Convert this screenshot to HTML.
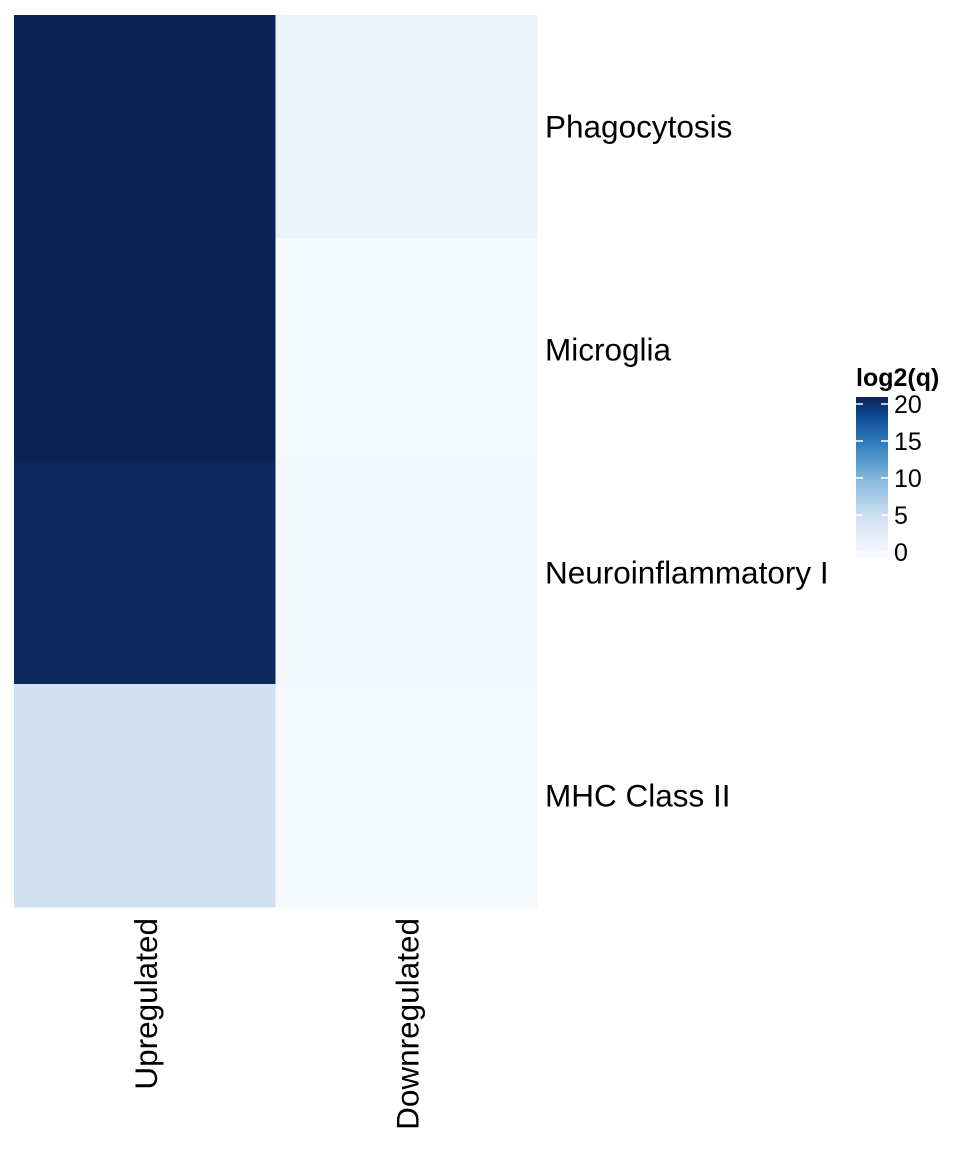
<!DOCTYPE html>
<html><head><meta charset="utf-8"><style>
body{margin:0;background:#fff;}
svg text{font-family:"Liberation Sans",Arial,sans-serif;}
</style></head><body>
<svg id="chart" width="960" height="1152" xmlns="http://www.w3.org/2000/svg">
<defs>
<linearGradient id="lg" x1="0" y1="1" x2="0" y2="0">
<stop offset="0" stop-color="#f7fbff"/><stop offset="0.25" stop-color="#d2e2f2"/>
<stop offset="0.5" stop-color="#7fb5d9"/><stop offset="0.72" stop-color="#2c7bbb"/>
<stop offset="0.88" stop-color="#0d4a95"/><stop offset="1" stop-color="#0b2257"/>
</linearGradient>
</defs>
<g id="cells"></g>
<g id="rowlabels"></g>
<g id="collabels"></g>
<g id="legend">
<text x="856" y="386" font-size="25" font-weight="bold">log2(q)</text>
<rect x="856" y="397" width="32" height="161" fill="url(#lg)"/>
<g id="legticks"></g>
</g>
</svg>
<script>
const rows = ["Phagocytosis","Microglia","Neuroinflammatory I","MHC Class II"];
const cols = ["Upregulated","Downregulated"];
const upValues = [21, 21, 19.6, 3];
const downValues = [1.0, 0.2, 0.3, 0.2];
const legendTicks = [0,5,10,15,20];

const ns="http://www.w3.org/2000/svg";
const x0=14, cw=261.5, y0=15, rh=223;
const stops=[[0,[247,251,255]],[1,[234,242,250]],[3,[207,224,241]],[5,[198,219,239]],[10,[107,174,214]],[15,[33,113,181]],[19.6,[12,38,94]],[21,[11,34,87]]];
function color(v){
  for(let i=1;i<stops.length;i++){ if(v<=stops[i][0]){const [a,ca]=stops[i-1],[b,cb]=stops[i];const t=(v-a)/(b-a);
    return "rgb("+ca.map((c,k)=>Math.round(c+(cb[k]-c)*t)).join(",")+")";}}
  return "rgb(11,34,87)";
}
function xPos(c){return x0+c*cw;}
function yPos(r){return y0+r*rh;}
const series=[upValues,downValues];
const g=document.getElementById("cells");
series.forEach((vals,c)=>vals.forEach((v,r)=>{
  const el=document.createElementNS(ns,"rect");
  el.setAttribute("x",xPos(c));el.setAttribute("y",yPos(r));
  el.setAttribute("width",cw+0.5);el.setAttribute("height",rh+0.5);
  el.setAttribute("fill",color(v));
  
  
  g.appendChild(el);
}));
const rl=document.getElementById("rowlabels");
rows.forEach((n,r)=>{
  const t=document.createElementNS(ns,"text");
  t.setAttribute("x",545);t.setAttribute("y",yPos(r)+rh/2+11);
  t.setAttribute("font-size",31.5);t.textContent=n;
  
  
  rl.appendChild(t);
});
const cl=document.getElementById("collabels");
cols.forEach((n,c)=>{
  const t=document.createElementNS(ns,"text");
  const x=xPos(c)+cw/2+12, y=918;
  t.setAttribute("x",x);t.setAttribute("y",y);
  t.setAttribute("transform","rotate(-90 "+x+" "+y+")");
  t.setAttribute("text-anchor","end");
  t.setAttribute("font-size",31.5);t.textContent=n;
  
  
  cl.appendChild(t);
});
const lt=document.getElementById("legticks");
function ly(v){return 552-v*7.4;}
legendTicks.forEach(v=>{
  const y=ly(v);
  [[856,863],[881,888]].forEach(([a,b])=>{
    const l=document.createElementNS(ns,"line");
    l.setAttribute("x1",a);l.setAttribute("x2",b);l.setAttribute("y1",y);l.setAttribute("y2",y);
    l.setAttribute("stroke","#fff");l.setAttribute("stroke-width",1.5);
    
    
    lt.appendChild(l);
  });
  const t=document.createElementNS(ns,"text");
  t.setAttribute("x",894);t.setAttribute("y",y+9);t.setAttribute("font-size",25);
  t.textContent=v;
  
  
  lt.appendChild(t);
});
</script>
</body></html>
